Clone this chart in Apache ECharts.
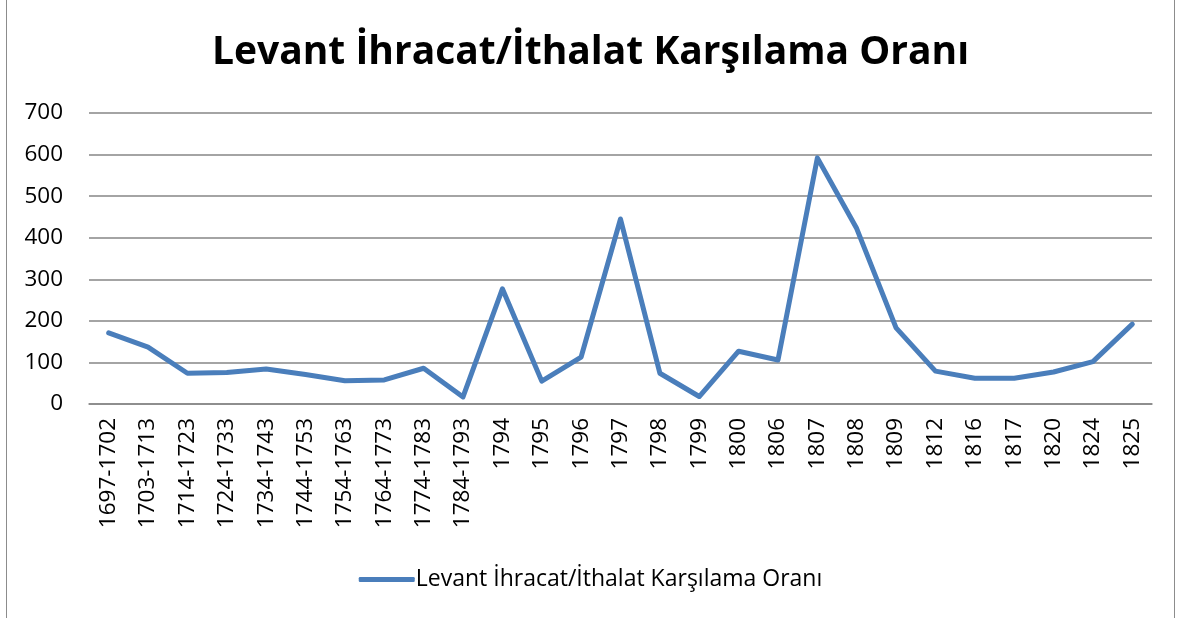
<!DOCTYPE html>
<html>
<head>
<meta charset="utf-8">
<script src="https://cdn.jsdelivr.net/npm/echarts@6/dist/echarts.min.js"></script>
<style>
  html, body { margin: 0; padding: 0; background: #fff; }
  #frame { position: absolute; left: 6px; top: -2px; width: 1167px; height: 630px; border: 1px solid #8c8c8c; }
  #chart { position: absolute; left: 0; top: 0; width: 1181px; height: 618px; }
</style>
</head>
<body>
<div id="frame"></div>
<div id="chart"></div>
<script>
var seriesName = 'Levant İhracat/İthalat Karşılama Oranı'
var categories = ['1697-1702', '1703-1713', '1714-1723', '1724-1733', '1734-1743', '1744-1753',
  '1754-1763', '1764-1773', '1774-1783', '1784-1793', '1794', '1795', '1796', '1797', '1798',
  '1799', '1800', '1806', '1807', '1808', '1809', '1812', '1816', '1817', '1820', '1824', '1825']
var values = [171, 137, 74, 76, 84, 71, 56, 58, 86, 17, 277, 55, 113, 445, 74,
  18, 127, 106, 592, 422, 183, 79, 62, 62, 77, 102, 192]

var myChart = echarts.init(document.getElementById('chart'))
myChart.setOption({
  animation: false,
  title: {
    text: seriesName,
    left: 'center',
    top: 28,
    textStyle: { fontFamily: 'Open Sans', fontWeight: 'bold', fontSize: 39, color: '#000' }
  },
  legend: {
    bottom: 22,
    left: 'center',
    itemWidth: 56,
    itemHeight: 5,
    itemGap: 0,
    icon: 'roundRect',
    textStyle: { fontFamily: 'Open Sans', fontSize: 23, color: '#000', padding: [0, 0, 0, -4] },
    data: [seriesName]
  },
  grid: { left: 89, right: 29, top: 113, bottom: 214, containLabel: false },
  xAxis: {
    type: 'category',
    data: categories,
    boundaryGap: true,
    axisLine: { lineStyle: { color: '#868686', width: 1.5 } },
    axisTick: { show: false },
    axisLabel: { rotate: 90, interval: 0, margin: 14, fontFamily: 'Open Sans', fontSize: 22.5, color: '#000' }
  },
  yAxis: {
    type: 'value',
    min: 0,
    max: 700,
    interval: 100,
    axisLine: { show: false },
    axisTick: { show: false },
    splitLine: { lineStyle: { color: '#868686', width: 1.5 } },
    axisLabel: { margin: 26, fontFamily: 'Open Sans', fontSize: 22.5, color: '#000' }
  },
  series: [{
    name: seriesName,
    type: 'line',
    data: values,
    symbol: 'none',
    lineStyle: { color: '#4a7ebb', width: 5, cap: 'round', join: 'round' },
    itemStyle: { color: '#4a7ebb' }
  }]
})
</script>
</body>
</html>
